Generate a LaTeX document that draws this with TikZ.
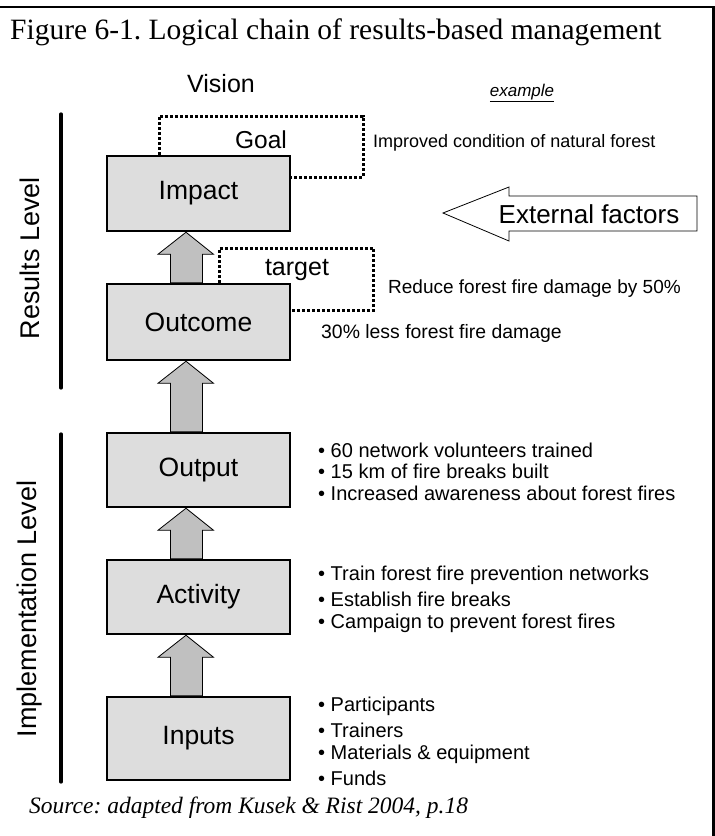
\documentclass[tikz,border=0pt]{standalone}
\usepackage{fontspec}
\setmainfont{Liberation Sans}
\newfontfamily\tnr{Liberation Serif}
\usetikzlibrary{calc}
\frenchspacing
\definecolor{boxgray}{RGB}{221,221,221}
\definecolor{arrgray}{RGB}{192,192,192}
\newcommand{\fs}[1]{\fontsize{#1}{#1}\selectfont}
\newcommand{\blockup}[2]{%
  \draw[blockarr] let \p1=(#1.north), \p2=(#2.south) in
    (\x1-28pt,\y1) -- (\x1-28pt,\y2-22pt) -- (\x1-40.5pt,\y2-22pt) -- (\x1-12.5pt,\y2)
    -- (\x1+15pt,\y2-22pt) -- (\x1+4pt,\y2-22pt) -- (\x1+4pt,\y1) -- cycle;}
\begin{document}
\begin{tikzpicture}[x=1pt,y=-1pt,
  lvlbox/.style={draw=black, line width=2.5pt, fill=boxgray, minimum width=183pt, inner sep=0pt, font=\fs{26.5}},
  blockarr/.style={draw=black, line width=0.8pt, fill=arrgray, line join=miter},
  dotbox/.style={line width=3pt, dash pattern=on 3pt off 2pt},
  lbl/.style={inner sep=0pt, anchor=center},
  side/.style={inner sep=0pt, anchor=west, font=\fs{20}},
  lvlline/.style={line width=3.3pt, line cap=round}
]
\useasboundingbox (0,0) rectangle (715,836);
\draw[line width=2.5pt] (0,7) -- (713.5,7) -- (713.5,836);

\node[side, font=\tnr\fs{29.5}] (title) at (10,32) {Figure 6-1. Logical chain of results-based management};

% level boxes
\node[lvlbox, minimum height=75pt] (impact) at (198.5,193.5) {Impact};
\node[lvlbox, minimum height=76pt] (outcome) at (198.5,322) {Outcome};
\node[lvlbox, minimum height=74pt] (output) at (198.5,470) {Output};
\node[lvlbox, minimum height=74pt] (activity) at (198.5,597) {Activity};
\node[lvlbox, minimum height=83pt] (inputs) at (198.5,738.5) {Inputs};

\blockup{outcome}{impact}
\blockup{output}{outcome}
\blockup{activity}{output}
\blockup{inputs}{activity}

% goal and target dotted frames
\coordinate (goalTL) at (159,116);
\coordinate (goalBR) at (363,177);
\draw[dotbox] (goalTL |- impact.north) -- (goalTL) -- (goalTL -| goalBR) -- (goalBR) -- (goalBR -| impact.east);
\coordinate (tgtTL) at (219.5,248);
\coordinate (tgtBR) at (373.5,310.5);
\draw[dotbox] (tgtTL |- outcome.north) -- (tgtTL) -- (tgtTL -| tgtBR) -- (tgtBR) -- (tgtBR -| outcome.east);

\node[lbl, font=\fs{25}] (vision) at (221,84) {Vision};
\node[lbl, font=\itshape\fs{17}] (example) at (522,93) {\underline{example}};
\node[lbl, font=\fs{24.5}] (goal) at (261,140) {Goal};
\node[side, font=\fs{18}] (goaltxt) at (373,143) {Improved condition of natural forest};
\node[lbl, font=\fs{25}] (target) at (297,270) {target};
\node[side, font=\fs{19}] (tgttxt) at (388,289) {Reduce forest fire damage by 50\%};
\node[side, font=\fs{19.4}] (outtxt) at (321,333) {30\% less forest fire damage};

% external factors
\draw[line width=0.8pt, fill=white] (443,213) -- (509,187) -- (509,196) -- (697,196) -- (697,231) -- (509,231) -- (509,241) -- cycle;
\node[lbl, font=\fs{26}] (ext) at (589,214) {External factors};

% bullets
\node[side] (o1) at (318,450) {• 60 network volunteers trained};
\node[side] (o2) at (318,471) {• 15 km of fire breaks built};
\node[side] (o3) at (318,493) {• Increased awareness about forest fires};
\node[side] (a1) at (318,575) {• Train forest fire prevention networks};
\node[side] (a2) at (318,599) {• Establish fire breaks};
\node[side] (a3) at (318,623) {• Campaign to prevent forest fires};
\node[side] (i1) at (318,706) {• Participants};
\node[side] (i2) at (318,730) {• Trainers};
\node[side] (i3) at (318,754) {• Materials \& equipment};
\node[side] (i4) at (318,778) {• Funds};

% levels
\node[lbl, rotate=90, font=\fs{27}] (reslvl) at (30,258) {Results Level};
\node[lbl, rotate=90, font=\fs{27}] (implvl) at (30,609) {Implementation Level};
\coordinate (r1) at (61,114);
\coordinate (r2) at (61,388);
\coordinate (m1) at (61,434);
\coordinate (m2) at (61,782);
\draw[lvlline] (r1) -- (r2);
\draw[lvlline] (m1) -- (m2);

\node[side, font=\tnr\itshape\fs{23.5}] (src) at (29,808) {Source: adapted from Kusek \& Rist 2004, p.18};
\end{tikzpicture}
\end{document}
